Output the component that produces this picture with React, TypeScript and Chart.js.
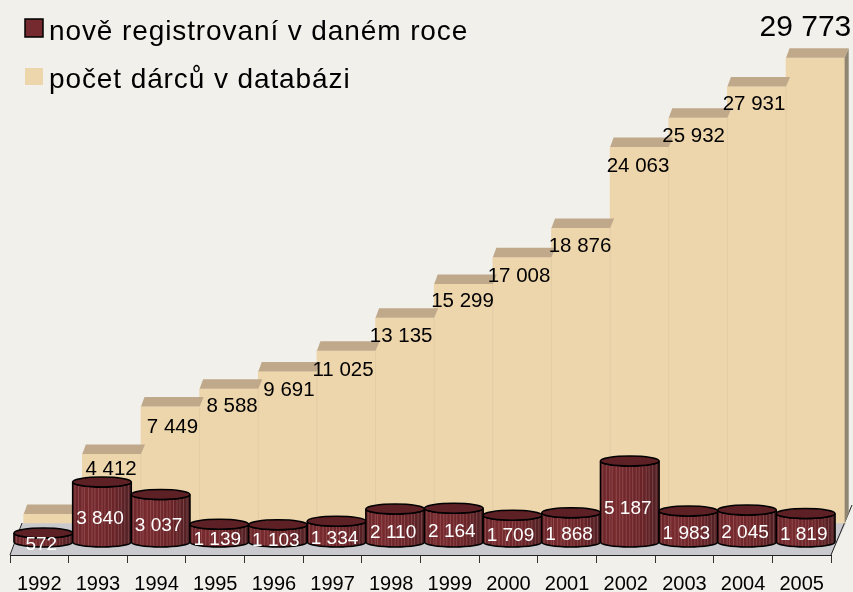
import React, { useEffect, useRef } from "react";
import { Chart, registerables } from "chart.js";

Chart.register(...registerables);

const years = ["1992","1993","1994","1995","1996","1997","1998","1999","2000","2001","2002","2003","2004","2005"];
const newDonors = [572,3840,3037,1139,1103,1334,2110,2164,1709,1868,5187,1983,2045,1819];
const totalDonors = [572,4412,7449,8588,9691,11025,13135,15299,17008,18876,24063,25932,27931,29773];
const newLabel = "nově registrovaní v daném roce";
const totalLabel = "počet dárců v databázi";

// Hand-placed label nudges for the back series, relative to each bar's centre and top.
const nudgeX = [0,-0.6,2.2,3.1,1.4,-3.2,-3.8,-1,-3.1,-0.8,-1.4,-4.5,-2.7,-10];
const nudgeY = [0,15,21,17.8,18.3,19.2,18.8,16.9,18.6,17.8,19.8,19,18.2,-30];

const BG = "#F1F0EB";
const BEIGE = "#EDD5AC";
const FONT = "'Liberation Sans', Arial, sans-serif";
const fmt = (v: number) => {
  const s = String(v);
  return s.length > 3 ? s.slice(0, -3) + " " + s.slice(-3) : s;
};

const FRONT = { dx: 4, dy: -13 };
const BACK = { dx: 13.7, dy: -32 };
const STRIPES = [0.04,0.1,0.16,0.2,0.27,0.33,0.38,0.44,0.5,0.55,0.61,0.66,0.72,0.78,0.83,0.89,0.95];

const scene = {
  id: "scene",
  beforeDatasetsDraw(chart: any) {
    const { ctx } = chart;
    const x = chart.scales.x, y = chart.scales.y;
    const l = x.left, r = x.right, b = y.bottom;
    ctx.save();
    ctx.fillStyle = "#CACACE";
    ctx.beginPath();
    ctx.moveTo(l, b);
    ctx.lineTo(l + 12, b - 32);
    ctx.lineTo(r + 15, b - 32);
    ctx.lineTo(r, b);
    ctx.closePath();
    ctx.fill();
    ctx.strokeStyle = "#222";
    ctx.lineWidth = 1;
    ctx.beginPath();
    ctx.moveTo(l, b);
    ctx.lineTo(l + 12, b - 32);
    ctx.moveTo(r, b);
    ctx.lineTo(r + 21, b - 50);
    ctx.stroke();
    ctx.restore();
  },
  beforeDatasetDraw(chart: any, args: any) {
    const o = args.index === 0 ? FRONT : BACK;
    chart.ctx.save();
    chart.ctx.translate(o.dx, o.dy);
  },
  afterDatasetDraw(chart: any, args: any) {
    const { ctx } = chart;
    const els = args.meta.data;
    if (args.index === 1) {
      els.forEach((el: any, i: number) => {
        const x0 = el.x - el.width / 2, x1 = el.x + el.width / 2;
        ctx.fillStyle = "#BFA98A";
        ctx.beginPath();
        ctx.moveTo(x0, el.y);
        ctx.lineTo(x0 + 3.5, el.y - 9.5);
        ctx.lineTo(x1 + 4, el.y - 9.5);
        ctx.lineTo(x1, el.y);
        ctx.closePath();
        ctx.fill();
        ctx.strokeStyle = "#E3CDA6";
        ctx.lineWidth = 1;
        ctx.beginPath();
        ctx.moveTo(x1, el.y);
        ctx.lineTo(x1, el.base);
        ctx.stroke();
        if (i === els.length - 1) {
          ctx.fillStyle = "#8F8571";
          ctx.beginPath();
          ctx.moveTo(x1, el.y);
          ctx.lineTo(x1 + 4, el.y - 9.5);
          ctx.lineTo(x1 + 4, el.base - 9.5);
          ctx.lineTo(x1, el.base);
          ctx.closePath();
          ctx.fill();
        }
      });
      ctx.fillStyle = "#000";
      ctx.textAlign = "center";
      ctx.textBaseline = "middle";
      els.forEach((el: any, i: number) => {
        if (i === 0) return;
        ctx.font = i === els.length - 1 ? `30px ${FONT}` : `20.5px ${FONT}`;
        ctx.fillText(fmt(totalDonors[i]), el.x + nudgeX[i], el.y + nudgeY[i]);
      });
    } else {
      const ry = 5;
      els.forEach((el: any, i: number) => {
        const rx = el.width / 2;
        const x0 = el.x - rx, x1 = el.x + rx;
        const body = () => {
          ctx.beginPath();
          ctx.moveTo(x0, el.y);
          ctx.lineTo(x0, el.base);
          ctx.ellipse(el.x, el.base, rx, ry, 0, Math.PI, 0, true);
          ctx.lineTo(x1, el.y);
          ctx.ellipse(el.x, el.y, rx, ry, 0, 0, Math.PI, false);
          ctx.closePath();
        };
        const g = ctx.createLinearGradient(x0, 0, x1, 0);
        g.addColorStop(0, "#6A2529");
        g.addColorStop(0.25, "#772A2E");
        g.addColorStop(0.7, "#6A2428");
        g.addColorStop(1, "#4E2024");
        ctx.save();
        body();
        ctx.fillStyle = g;
        ctx.fill();
        ctx.clip();
        ctx.strokeStyle = "rgba(230,190,190,0.22)";
        ctx.lineWidth = 1;
        ctx.beginPath();
        STRIPES.forEach((s) => {
          ctx.moveTo(x0 + s * el.width, el.y);
          ctx.lineTo(x0 + s * el.width, el.base + ry);
        });
        ctx.stroke();
        ctx.restore();
        ctx.strokeStyle = "#000";
        ctx.lineWidth = 1.5;
        body();
        ctx.stroke();
        ctx.beginPath();
        ctx.ellipse(el.x, el.y, rx, ry, 0, 0, Math.PI * 2);
        ctx.fillStyle = "#5C2025";
        ctx.fill();
        ctx.stroke();
      });
      ctx.fillStyle = "#FFF";
      ctx.font = `19px ${FONT}`;
      ctx.textAlign = "center";
      ctx.textBaseline = "middle";
      els.forEach((el: any, i: number) => {
        ctx.fillText(fmt(newDonors[i]), el.x - 2, (el.y + el.base) / 2 + 7);
      });
    }
    ctx.restore();
  },
  afterDraw(chart: any) {
    const { ctx } = chart;
    ctx.save();
    ctx.fillStyle = "#742A2E";
    ctx.strokeStyle = "#000";
    ctx.lineWidth = 1.5;
    ctx.fillRect(25, 19, 18, 18);
    ctx.strokeRect(25, 19, 18, 18);
    ctx.fillStyle = BEIGE;
    ctx.fillRect(25, 68, 18, 17);
    ctx.fillStyle = "#000";
    ctx.textAlign = "left";
    ctx.textBaseline = "alphabetic";
    ctx.font = `28px ${FONT}`;
    (ctx as any).letterSpacing = "0.9px";
    ctx.fillText(newLabel, 49, 40);
    ctx.fillText(totalLabel, 49, 88);
    ctx.restore();
  },
};

export default function App() {
  const ref = useRef<HTMLCanvasElement>(null);
  useEffect(() => {
    const chart = new Chart(ref.current as HTMLCanvasElement, {
      type: "bar",
      data: {
        labels: years,
        datasets: [
          { label: newLabel, data: newDonors, backgroundColor: "#6A2529", grouped: false, clip: false } as any,
          { label: totalLabel, data: totalDonors, backgroundColor: BEIGE, grouped: false, clip: false } as any,
        ],
      },
      options: {
        responsive: false,
        animation: false,
        layout: { padding: { left: 10, right: 22, top: 30, bottom: 0 } },
        datasets: { bar: { categoryPercentage: 1, barPercentage: 1 } },
        plugins: { legend: { display: false }, tooltip: { enabled: false }, title: { display: false } },
        scales: {
          x: {
            afterFit: (s: any) => { s.height = 37; },
            grid: { drawOnChartArea: false, drawTicks: true, tickLength: 8, color: "#333", offset: true },
            border: { color: "#222", width: 1 },
            ticks: { color: "#000", font: { family: FONT, size: 20 }, maxRotation: 0, autoSkip: false, padding: 9 },
          },
          y: { display: false, min: 0, max: 33600 },
        },
      } as any,
      plugins: [scene],
    });
    return () => chart.destroy();
  }, []);
  return (
    <div style={{ position: "fixed", left: 0, top: 0, width: 853, height: 592, background: BG }}>
      <canvas ref={ref} width={853} height={592} style={{ display: "block" }} />
    </div>
  );
}
